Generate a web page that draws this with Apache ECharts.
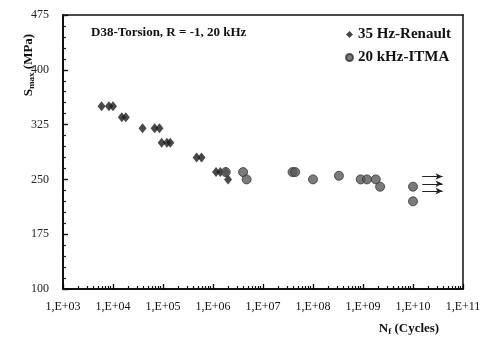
<!DOCTYPE html>
<html>
<head>
<meta charset="utf-8">
<script src="https://cdn.jsdelivr.net/npm/echarts@6/dist/echarts.min.js"></script>
<style>html,body{margin:0;padding:0;background:#fff;}#c{width:489px;height:341px;}</style>
</head>
<body>
<div id="c"></div>
<script>
// ---- data ----
var renaultN = [5.9e3, 8.3e3, 1.0e4, 1.5e4, 1.8e4, 3.9e4, 6.8e4, 8.5e4, 9.4e4, 1.2e5, 1.4e5, 4.7e5, 5.9e5, 1.15e6, 1.4e6, 1.8e6, 2.0e6];
var renaultS = [350, 350, 350, 335, 335, 320, 320, 320, 300, 300, 300, 280, 280, 260, 260, 260, 250];
var itmaN = [1.8e6, 4.0e6, 4.7e6, 3.9e7, 4.4e7, 1.0e8, 3.3e8, 9.0e8, 1.2e9, 1.8e9, 2.2e9, 1.0e10, 1.0e10];
var itmaS = [260, 260, 250, 260, 260, 250, 255, 250, 250, 250, 240, 240, 220];
var arrowStartN = [1.53e10, 1.53e10, 1.53e10];
var arrowEndN = [3.9e10, 3.9e10, 3.9e10];
var arrowS = [254, 244, 234];
var yTicks = [100, 175, 250, 325, 400, 475];
var xMin = 1e3, xMax = 1e11;
var seriesNames = ['35 Hz-Renault', '20 kHz-ITMA'];
var titleText = 'D38-Torsion, R = -1, 20 kHz';

// ---- derived tick helpers ----
var yMinor = [];
for (var v = 100; v <= 475; v += 15) yMinor.push(v);
var xMinorLog = [];
for (var d = 3; d < 11; d++) for (var m = 2; m <= 9; m++) xMinorLog.push(Math.log10(m * Math.pow(10, d)));

function pairs(a, b) { return a.map(function (x, i) { return [x, b[i]]; }); }
var arrows = arrowS.map(function (s, i) {
  return [{ coord: [arrowStartN[i], s] }, { coord: [arrowEndN[i], s] }];
});

var FONT = "'Liberation Serif', 'Times New Roman', serif";
var frameAxis = {
  axisLine: { show: true, lineStyle: { color: '#111', width: 1.5 } },
  axisTick: { show: false }, axisLabel: { show: false }, splitLine: { show: false }
};
var chart = echarts.init(document.getElementById('c'), null, { renderer: 'canvas' });
chart.setOption({
  animation: false,
  backgroundColor: '#fff',
  textStyle: { fontFamily: FONT },
  grid: { left: 63, right: 26, top: 15, bottom: 52 },
  title: {
    text: titleText, left: 86, top: 21,
    textStyle: { fontFamily: FONT, fontWeight: 'bold', fontSize: 13, color: '#111' }
  },
  legend: {
    data: seriesNames, orient: 'vertical', left: 340, top: 22, itemGap: 8,
    itemWidth: 7, itemHeight: 7,
    textStyle: { fontFamily: FONT, fontWeight: 'bold', fontSize: 15, color: '#111' }
  },
  xAxis: [{
    type: 'log', logBase: 10, min: xMin, max: xMax, interval: 1,
    axisLine: { show: true, lineStyle: { color: '#111', width: 2 } },
    axisTick: { show: true, inside: true, length: 5, lineStyle: { color: '#000', width: 1.3 } },
    splitLine: { show: false },
    axisLabel: {
      fontFamily: FONT, fontSize: 12, color: '#111', margin: 12,
      formatter: function (v) { var e = Math.round(Math.log10(v)); return '1,E+' + (e < 10 ? '0' + e : e); }
    }
  }, {
    type: 'value', min: 3, max: 11, position: 'bottom',
    axisLine: { show: false },
    axisTick: { show: true, inside: true, length: 3, customValues: xMinorLog, lineStyle: { color: '#111', width: 1.2 } },
    axisLabel: { show: false }, splitLine: { show: false }
  }, Object.assign({ type: 'value', min: 0, max: 1, position: 'top' }, frameAxis)],
  yAxis: [{
    type: 'value', min: 100, max: 475,
    axisLine: { show: true, lineStyle: { color: '#111', width: 2 } },
    axisTick: { show: true, inside: true, length: 5, customValues: yTicks, lineStyle: { color: '#000', width: 1.3 } },
    axisLabel: { customValues: yTicks, fontFamily: FONT, fontSize: 12, color: '#222', margin: 14 },
    splitLine: { show: false }
  }, {
    type: 'value', min: 100, max: 475, position: 'left',
    axisLine: { show: false },
    axisTick: { show: true, inside: true, length: 3, customValues: yMinor, lineStyle: { color: '#222', width: 1.2 } },
    axisLabel: { show: false }, splitLine: { show: false }
  }, Object.assign({ type: 'value', min: 0, max: 1, position: 'right' }, frameAxis)],
  graphic: [{
    type: 'text', x: 29, y: 65, rotation: Math.PI / 2,
    style: {
      text: '{a|S}{b|max}{a| (MPa)}', align: 'center', verticalAlign: 'middle',
      rich: {
        a: { fontFamily: FONT, fontWeight: 'bold', fontSize: 13, fill: '#111', lineHeight: 16 },
        b: { fontFamily: FONT, fontWeight: 'bold', fontSize: 9, fill: '#111', lineHeight: 9, padding: [6, 0, 0, 0] }
      }
    }
  }, {
    type: 'text', x: 409, y: 329,
    style: {
      text: '{a|N}{b|f}{a| (Cycles)}', align: 'center', verticalAlign: 'middle',
      rich: {
        a: { fontFamily: FONT, fontWeight: 'bold', fontSize: 13, fill: '#111', lineHeight: 16 },
        b: { fontFamily: FONT, fontWeight: 'bold', fontSize: 9, fill: '#111', lineHeight: 9, padding: [6, 0, 0, 0] }
      }
    }
  }],
  series: [{
    name: seriesNames[0], type: 'scatter', xAxisIndex: 0, yAxisIndex: 0,
    symbol: 'diamond', symbolSize: [8, 10],
    itemStyle: { color: '#1c1c1c' },
    data: pairs(renaultN, renaultS),
    markLine: {
      silent: true, symbol: ['none', 'arrow'], symbolSize: [5, 7],
      label: { show: false },
      lineStyle: { color: '#222', width: 1, type: 'solid' },
      data: arrows
    }
  }, {
    name: seriesNames[1], type: 'scatter', xAxisIndex: 0, yAxisIndex: 0,
    symbol: 'circle', symbolSize: 9,
    itemStyle: { color: '#5a5a5a', borderColor: '#333', borderWidth: 1 },
    data: pairs(itmaN, itmaS)
  }]
});
</script>
</body>
</html>
